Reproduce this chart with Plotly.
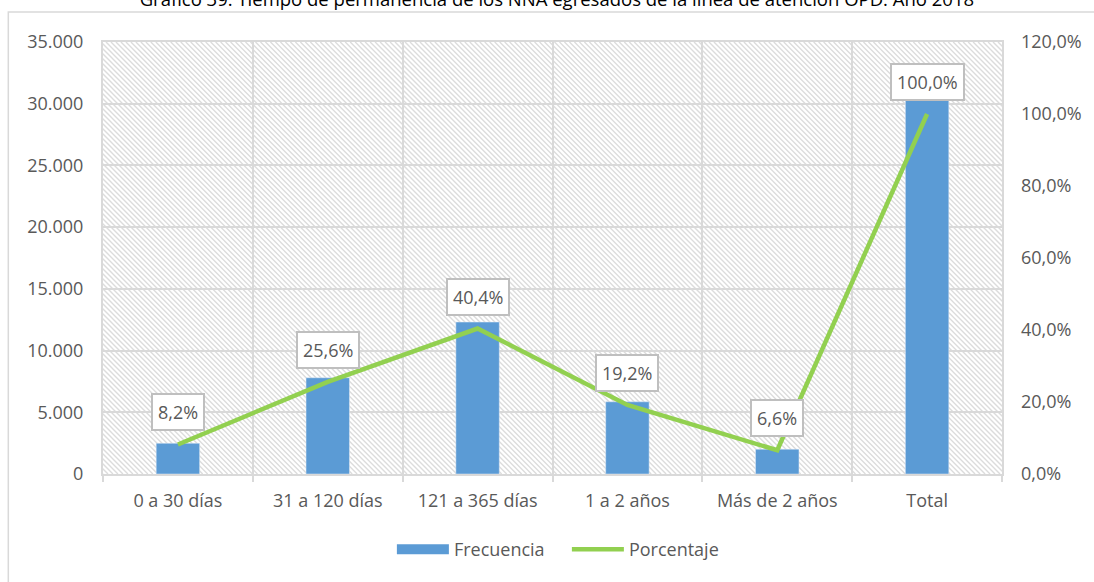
import base64
import plotly.graph_objects as go

# Data: length of stay of NNA discharged from the OPD line, 2018
categorias = ["0 a 30 días", "31 a 120 días", "121 a 365 días", "1 a 2 años", "Más de 2 años", "Total"]
frecuencia = [2490, 7800, 12310, 5850, 2010, 30460]
porcentaje = [8.2, 25.6, 40.4, 19.2, 6.6, 100.0]
etiquetas = ["8,2%", "25,6%", "40,4%", "19,2%", "6,6%", "100,0%"]

titulo = "Gráfico 39: Tiempo de permanencia de los NNA egresados de la línea de atención OPD. Año 2018"

AZUL = "#5B9BD5"
VERDE = "#92D050"
GRIS_TXT = "#595959"
GRIS_LIN = "#D9D9D9"
FUENTE = "Open Sans"
TAM = 18

W, H = 1094, 582
ML, MR, MT, MB = 103, 89, 42, 108
PW, PH = W - ML - MR, H - MT - MB

# Diagonal hatch used as the plot-area background
lines = []
step = 5
for x in range(-PH, PW + step, step):
    lines.append(f'<line x1="{x}" y1="0" x2="{x + PH}" y2="{PH}"/>')
svg = (f'<svg xmlns="http://www.w3.org/2000/svg" width="{PW}" height="{PH}">'
       f'<g stroke="#DCDCDC" stroke-width="1.4">' + "".join(lines) + "</g></svg>")
hatch_uri = "data:image/svg+xml;base64," + base64.b64encode(svg.encode()).decode()

fig = go.Figure()

fig.add_trace(go.Bar(
    x=categorias, y=frecuencia, marker_color=AZUL, width=0.29,
    name="Frecuencia", showlegend=False, yaxis="y",
))
fig.add_trace(go.Scatter(
    x=categorias, y=porcentaje, mode="lines", line=dict(color=VERDE, width=4.5),
    name="Porcentaje", showlegend=False, yaxis="y2",
))

# Legend swatches
fig.add_trace(go.Scatter(x=[None], y=[None], mode="lines", line=dict(color=AZUL, width=10),
                         name="Frecuencia", yaxis="y"))
fig.add_trace(go.Scatter(x=[None], y=[None], mode="lines", line=dict(color=VERDE, width=4.5),
                         name="Porcentaje", yaxis="y"))

for c, p, t in zip(categorias, porcentaje, etiquetas):
    fig.add_annotation(
        x=c, y=p, xref="x", yref="y2", text=t, showarrow=False, yshift=32,
        font=dict(family=FUENTE, size=TAM, color=GRIS_TXT),
        bgcolor="white", bordercolor="#BFBFBF", borderwidth=2, borderpad=5,
    )

fig.add_layout_image(dict(
    source=hatch_uri, xref="paper", yref="paper", x=0, y=1, sizex=1, sizey=1,
    xanchor="left", yanchor="top", sizing="stretch", layer="below",
))

# Outer chart frame
fig.add_shape(type="rect", xref="paper", yref="paper",
              x0=(8 - ML) / PW, x1=(W + 10 - ML) / PW,
              y0=-(H + 10 - MT - PH) / PH, y1=(PH + MT - 12) / PH,
              line=dict(color=GRIS_LIN, width=1.5), layer="below")

fig.update_layout(
    width=W, height=H,
    margin=dict(l=ML, r=MR, t=MT, b=MB),
    paper_bgcolor="white", plot_bgcolor="rgba(0,0,0,0)",
    separators=",.",
    font=dict(family=FUENTE, size=TAM, color=GRIS_TXT),
    title=dict(text=titulo, x=0.509, xanchor="center", y=1.0, yref="container",
               yanchor="middle", font=dict(family=FUENTE, size=18.5, color="#000000"),
               pad=dict(t=0, b=0)),
    xaxis=dict(
        type="category", tickson="boundaries", showgrid=True, gridcolor=GRIS_LIN, gridwidth=2,
        showline=True, linecolor=GRIS_LIN, linewidth=2, mirror=True,
        ticks="outside", ticklen=6, tickcolor=GRIS_LIN, tickwidth=2,
        tickfont=dict(family=FUENTE, size=TAM, color=GRIS_TXT), ticklabelstandoff=9,
        range=[-0.5, 5.5],
    ),
    yaxis=dict(
        range=[0, 35000], dtick=5000, tickformat=",d", showgrid=True,
        gridcolor=GRIS_LIN, gridwidth=2, zeroline=False,
        showline=True, linecolor=GRIS_LIN, linewidth=2, mirror=True,
        ticks="", tickfont=dict(family=FUENTE, size=TAM, color=GRIS_TXT),
        ticklabelstandoff=14,
    ),
    yaxis2=dict(
        range=[0, 120], dtick=20, tickformat=".1f", ticksuffix="%",
        overlaying="y", side="right", showgrid=False, zeroline=False, showline=False,
        ticks="", tickfont=dict(family=FUENTE, size=TAM, color=GRIS_TXT),
        ticklabelstandoff=18,
    ),
    legend=dict(orientation="h", x=0.516, xanchor="center", y=-0.175, yanchor="middle",
                font=dict(family=FUENTE, size=TAM, color=GRIS_TXT), itemwidth=52,
                entrywidth=108, bgcolor="rgba(0,0,0,0)"),
)

fig.write_html("out.html")
